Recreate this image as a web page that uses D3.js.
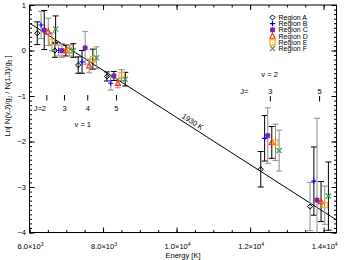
<!DOCTYPE html>
<html>
<head>
<meta charset="utf-8">
<script src="https://cdn.jsdelivr.net/npm/d3@7"></script>
<style>
  html, body { margin: 0; padding: 0; background: #fff; }
  svg { display: block; font-family: "Liberation Sans", Arial, sans-serif; }
</style>
</head>
<body>
<svg id="chart" width="351" height="260"></svg>
<script>
// ---------- data ----------
const regions = ["Region A", "Region B", "Region C", "Region D", "Region E", "Region F"];
const levelEnergy = [6471, 6951, 7584, 8365, 12550, 13890];   // K
const levelV = [1, 1, 1, 1, 2, 2];
const levelJ = [2, 3, 4, 5, 3, 5];
const regionOffset = [-260, -155, -70, 40, 140, 240];           // K, horizontal dodge
const valA = [0.38, 0, -0.32, -0.57, -2.61, -3.43];
const valB = [0.56, 0, -0.25, -0.72, -1.93, -2.87];
const valC = [0.45, 0, 0.06, -0.56, -1.87, -3.29];
const valD = [0.41, 0, -0.34, -0.72, -2.02, -3.32];
const valE = [0.19, 0, -0.19, -0.54, -2.02, -3.40];
const valF = [0.47, 0, -0.16, -0.63, -2.20, -3.20];
const errA = [0.25, 0.15, 0.18, 0.10, 0.39, 0.53];
const errB = [0.30, 0.12, 0.25, 0.15, 0.50, 0.75];
const errC = [0.43, 0.15, 0.36, 0.10, 0.61, 1.80];
const errD = [0.30, 0.12, 0.15, 0.10, 0.35, 0.44];
const errE = [0.20, 0.12, 0.22, 0.12, 0.40, 0.42];
const errF = [0.29, 0.15, 0.24, 0.15, 0.45, 0.75];
const fitT = 1930;            // K
const fitIntercept = 3.71;    // ln ratio at E = 0
const xTicks = [6000, 8000, 10000, 12000, 14000];
const yTicks = [-4, -3, -2, -1, 0, 1];

// bar shade style per point (1 = black, 0 = grey)
const barDark = [
  [1, 1, 1, 1, 1, 0],
  [0, 0, 1, 0, 1, 1],
  [1, 0, 0, 1, 0, 0],
  [0, 1, 0, 0, 1, 1],
  [0, 0, 1, 0, 0, 0],
  [1, 1, 0, 1, 0, 1]
];
const vals = [valA, valB, valC, valD, valE, valF];
const errs = [errA, errB, errC, errD, errE, errF];
const colors = ["#000000", "#0000ff", "#7a1fb0", "#ff2a00", "#ffa500", "#3a9a3a"];

// ---------- layout ----------
const svg = d3.select("#chart");
const L = 29.5, R = 336.5, T = 5, B = 232.5;
const x = d3.scaleLinear().domain([6000, 14350]).range([L, R]);
const y = d3.scaleLinear().domain([-4, 1]).range([B, T]);

svg.append("defs").append("clipPath").attr("id", "clip")
  .append("rect").attr("x", L).attr("y", T).attr("width", R - L).attr("height", B - T);

// axes (inward ticks, mirrored)
const xMinor = d3.range(6000, 14351, 500);
const yMinor = d3.range(-40, 11).map(d => d / 10);
function axisGroup(axis, tx, ty) {
  const g = svg.append("g").attr("transform", `translate(${tx},${ty})`).call(axis);
  g.selectAll("path.domain").remove();
  g.selectAll("line").attr("stroke", "#000").attr("stroke-width", 1);
  g.selectAll("text").remove();
  return g;
}
axisGroup(d3.axisBottom(x).tickValues(xTicks).tickSize(-5), 0, B);
axisGroup(d3.axisBottom(x).tickValues(xMinor).tickSize(-2.5), 0, B);
axisGroup(d3.axisTop(x).tickValues(xTicks).tickSize(-5), 0, T);
axisGroup(d3.axisTop(x).tickValues(xMinor).tickSize(-2.5), 0, T);
axisGroup(d3.axisLeft(y).tickValues(yTicks).tickSize(-5), L, 0);
axisGroup(d3.axisLeft(y).tickValues(yMinor).tickSize(-2.5), L, 0);
axisGroup(d3.axisRight(y).tickValues(yTicks).tickSize(-5), R, 0);
axisGroup(d3.axisRight(y).tickValues(yMinor).tickSize(-2.5), R, 0);

svg.append("rect").attr("x", L).attr("y", T).attr("width", R - L).attr("height", B - T)
  .attr("fill", "none").attr("stroke", "#000").attr("stroke-width", 1);

// tick labels
const fs = 7.5;
xTicks.forEach(t => {
  const mant = (t / Math.pow(10, Math.floor(Math.log10(t)))).toFixed(1);
  const ex = Math.floor(Math.log10(t));
  const txt = svg.append("text").attr("x", x(t) + 1).attr("y", 249)
    .attr("text-anchor", "middle").attr("font-size", fs);
  txt.append("tspan").text(mant + "×10");
  txt.append("tspan").attr("font-size", 5).attr("dy", -3).text(ex);
});
yTicks.forEach(t => {
  svg.append("text").attr("x", 26).attr("y", y(t) + 2.7)
    .attr("text-anchor", "end").attr("font-size", fs)
    .text(t < 0 ? "\u2212" + Math.abs(t) : t);
});

// axis titles
svg.append("text").attr("x", (L + R) / 2).attr("y", 257.5).attr("text-anchor", "middle")
  .attr("font-size", fs).text("Energy  [K]");
const yl = svg.append("text").attr("transform", "translate(10,96) rotate(-90)")
  .attr("text-anchor", "middle").attr("font-size", fs);
yl.append("tspan").text("Ln[  N(v,J)/g");
yl.append("tspan").attr("font-size", 5).attr("dy", 2).text("J");
yl.append("tspan").attr("dy", -2).text("  /  N(1,3)/g");
yl.append("tspan").attr("font-size", 5).attr("dy", 2).text("3");
yl.append("tspan").attr("dy", -2).text("  ]");

// fit line
const plot = svg.append("g").attr("clip-path", "url(#clip)");
const fitE = x.domain();
plot.append("line")
  .attr("x1", x(fitE[0])).attr("y1", y(fitIntercept - fitE[0] / fitT))
  .attr("x2", x(fitE[1])).attr("y2", y(fitIntercept - fitE[1] / fitT))
  .attr("stroke", "#000").attr("stroke-width", 1);
{
  const eLab = 10400;
  const px = x(eLab), py = y(fitIntercept - eLab / fitT);
  const ang = Math.atan2(y(fitIntercept - (eLab + 1000) / fitT) - py, x(eLab + 1000) - px) * 180 / Math.PI;
  svg.append("text").attr("transform", `translate(${px},${py - 3}) rotate(${ang})`)
    .attr("text-anchor", "middle").attr("font-size", fs).text("1930 K");
}

// error bars + symbols
function symbol(g, k, cx, cy, c) {
  const s = 2.6;
  if (k === 0) g.append("path").attr("d", `M${cx},${cy - s}L${cx + s},${cy}L${cx},${cy + s}L${cx - s},${cy}Z`).attr("fill", "none").attr("stroke", c);
  if (k === 1) g.append("path").attr("d", `M${cx - s},${cy}H${cx + s}M${cx},${cy - s}V${cy + s}`).attr("stroke", c).attr("stroke-width", 1.2);
  if (k === 2) g.append("path").attr("d", `M${cx - s},${cy}H${cx + s}M${cx},${cy - s}V${cy + s}M${cx - s * 0.8},${cy - s * 0.8}L${cx + s * 0.8},${cy + s * 0.8}M${cx - s * 0.8},${cy + s * 0.8}L${cx + s * 0.8},${cy - s * 0.8}`).attr("stroke", c).attr("stroke-width", 1.5);
  if (k === 3) g.append("path").attr("d", `M${cx},${cy - s * 1.1}L${cx + s},${cy + s * 0.8}L${cx - s},${cy + s * 0.8}Z`).attr("fill", "none").attr("stroke", c).attr("stroke-width", 1.1);
  if (k === 4) g.append("rect").attr("x", cx - s).attr("y", cy - s).attr("width", 2 * s).attr("height", 2 * s).attr("fill", "none").attr("stroke", c).attr("stroke-width", 1.1);
  if (k === 5) g.append("path").attr("d", `M${cx - s},${cy - s}L${cx + s},${cy + s}M${cx - s},${cy + s}L${cx + s},${cy - s}`).attr("stroke", c).attr("stroke-width", 1.1);
}
const bars = plot.append("g");
const syms = plot.append("g");
regions.forEach((r, k) => {
  levelEnergy.forEach((e, i) => {
    const cx = x(e + regionOffset[k]);
    const v = vals[k][i], er = errs[k][i];
    const bc = barDark[k][i] ? "#000" : "#8c8c8c";
    const y0 = y(v - er), y1 = y(v + er);
    bars.append("path").attr("d", `M${cx},${y0}V${y1}M${cx - 3},${y0}H${cx + 3}M${cx - 3},${y1}H${cx + 3}`)
      .attr("stroke", bc).attr("stroke-width", 1).attr("fill", "none");
  });
});
regions.forEach((r, k) => {
  levelEnergy.forEach((e, i) => {
    symbol(syms, k, x(e + regionOffset[k]), y(vals[k][i]), colors[k]);
  });
});

// J markers
levelEnergy.forEach((e, i) => {
  const cx = x(e);
  const topY = levelV[i] === 1 ? 95 : 96;
  svg.append("line").attr("x1", cx).attr("x2", cx).attr("y1", topY).attr("y2", topY + 5.5)
    .attr("stroke", "#000").attr("stroke-width", 1);
  const ty = levelV[i] === 1 ? 111 : 94;
  const label = (i === 0 ? "J=" : "") + levelJ[i];
  svg.append("text").attr("x", cx + (i === 0 ? -7 : 0)).attr("y", ty).attr("text-anchor", "middle")
    .attr("font-size", fs).text(label);
});
svg.append("text").attr("x", x(levelEnergy[4]) - 26).attr("y", 94).attr("text-anchor", "middle")
  .attr("font-size", fs).text("J=");
svg.append("text").attr("x", x(7450)).attr("y", 126.5).attr("text-anchor", "middle")
  .attr("font-size", fs).text("v = 1");
svg.append("text").attr("x", x(12530)).attr("y", 77).attr("text-anchor", "middle")
  .attr("font-size", fs).text("v = 2");

// legend
const lg = svg.append("g");
regions.forEach((r, k) => {
  const ly = 17.5 + k * 6.2;
  symbol(lg, k, 272.5, ly, colors[k]);
  lg.append("text").attr("x", 278.5).attr("y", ly + 2.5).attr("font-size", 7).text(r);
});
</script>
</body>
</html>
